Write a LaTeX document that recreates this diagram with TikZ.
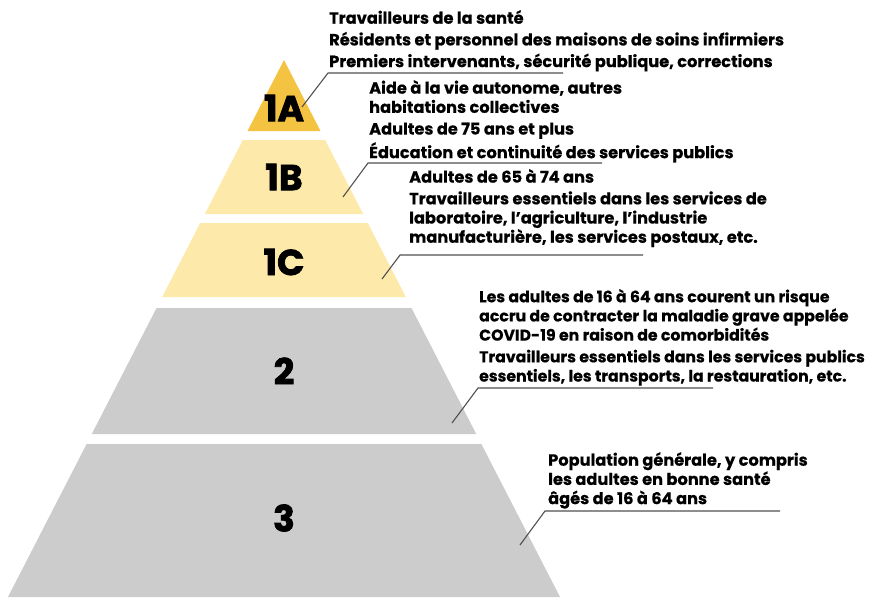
\documentclass[tikz,border=0pt]{standalone}
\usepackage{fontspec}
\setmainfont{Poppins}[BoldFeatures={FakeBold=0.5}]
\newfontfamily\heavyfont{Poppins}[BoldFeatures={FakeBold=2}]
\definecolor{yellowA}{RGB}{245,195,66}
\definecolor{yellowB}{RGB}{253,233,170}
\definecolor{grayT}{RGB}{204,204,204}
\definecolor{leadgray}{RGB}{80,80,80}
\begin{document}
\begin{tikzpicture}[x=1pt,y=-1pt,
	lbl/.style={font=\heavyfont\bfseries\fontsize{36}{36}\selectfont, inner sep=0pt},
	info/.style={anchor=north west, align=left, inner sep=0pt, font=\bfseries\fontsize{16.2}{19.2}\selectfont},
	lead/.style={draw=leadgray, line width=1.1pt}]
	\useasboundingbox (0,0) rectangle (875,597);
	\def\sl{0.514} % pente des cotes de la pyramide
	% les etages
	\foreach \ya/\yb/\col in {60/131/yellowA, 140/214/yellowB, 223/297/yellowB, 308/434/grayT, 444/597/grayT}{
		\fill[\col] ({284-\sl*(\ya-60)},\ya) -- ({284+\sl*(\ya-60)},\ya) -- ({284+\sl*(\yb-60)},\yb) -- ({284-\sl*(\yb-60)},\yb) -- cycle;
	}
	\node[lbl] (tA) at (284,108) {1A};
	\node[lbl] (tB) at (284,177) {1B};
	\node[lbl] (tC) at (284,262) {1C};
	\node[lbl] (tD) at (284,371) {2};
	\node[lbl] (tE) at (284,518) {3};
	% les textes
	\node[info] (txtA) at (329,10) {Travailleurs de la santé\\[2.5pt]Résidents et personnel des maisons de soins infirmiers\\[2.5pt]Premiers intervenants, sécurité publique, corrections};
	\node[info] (txtB) at (369,80) {Aide à la vie autonome, autres\\habitations collectives\\[2.5pt]Adultes de 75 ans et plus\\[2.5pt]Éducation et continuité des services publics};
	\node[info] (txtC) at (409,169) {Adultes de 65 à 74 ans\\[2.5pt]Travailleurs essentiels dans les services de\\laboratoire, l’agriculture, l’industrie\\manufacturière, les services postaux, etc.};
	\node[info, font=\bfseries\fontsize{15.7}{19.2}\selectfont] (txtD) at (479,289) {Les adultes de 16 à 64 ans courent un risque\\accru de contracter la maladie grave appelée\\COVID-19 en raison de comorbidités\\[2.5pt]Travailleurs essentiels dans les services publics\\essentiels, les transports, la restauration, etc.};
	\node[info] (txtE) at (548,452) {Population générale, y compris\\les adultes en bonne santé\\âgés de 16 à 64 ans};
	% les renvois
	\coordinate (pA) at (302,107); \coordinate (kA) at (328,73); \coordinate (eA) at (563,73);
	\coordinate (pB) at (343,197); \coordinate (kB) at (368,163); \coordinate (eB) at (602,163);
	\coordinate (pC) at (382,279); \coordinate (kC) at (400,255); \coordinate (eC) at (643,255);
	\coordinate (pD) at (452,423); \coordinate (kD) at (478,388); \coordinate (eD) at (713,388);
	\coordinate (pE) at (520,545); \coordinate (kE) at (545,511); \coordinate (eE) at (780,511);
	\draw[lead] (pA) -- (kA) -- (eA) (pB) -- (kB) -- (eB) (pC) -- (kC) -- (eC) (pD) -- (kD) -- (eD) (pE) -- (kE) -- (eE);
\end{tikzpicture}
\end{document}
